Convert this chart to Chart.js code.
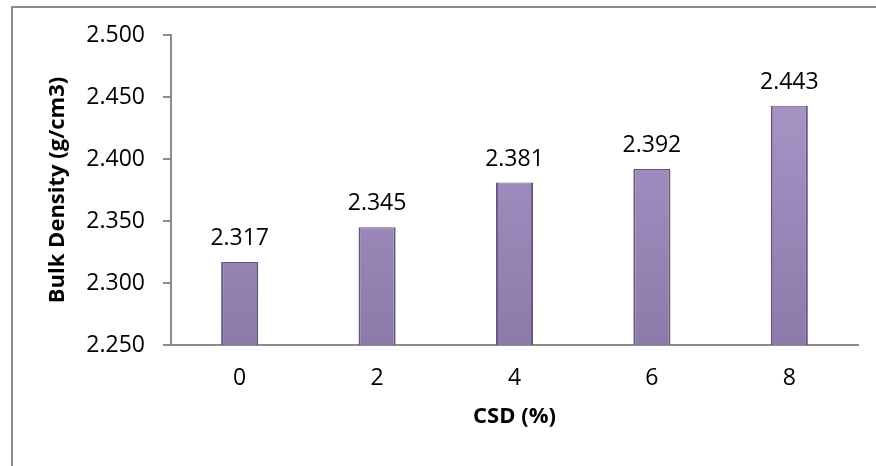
<!DOCTYPE html>
<html>
<head>
<meta charset="utf-8">
<script src="https://cdn.jsdelivr.net/npm/chart.js@4"></script>
<style>
  html, body { margin: 0; padding: 0; background: #fff; overflow: hidden; }
  #wrap { position: relative; width: 876px; height: 466px; }
  #frame { position: absolute; left: 11px; top: 6px; width: 900px; height: 500px; border: 2px solid #8c8c8c; box-sizing: border-box; }
  canvas { position: absolute; left: 0; top: 0; }
</style>
</head>
<body>
<div id="wrap">
  <div id="frame"></div>
  <canvas id="densityChart" width="876" height="466"></canvas>
</div>
<script>
const categories = ["0", "2", "4", "6", "8"];
const bulkDensity = [2.317, 2.345, 2.381, 2.392, 2.443];
const yTicks = [2.25, 2.30, 2.35, 2.40, 2.45, 2.50];

const labelFont = { family: "'Open Sans', sans-serif", size: 23 };
const titleFont = { family: "'Open Sans', sans-serif", size: 22, weight: "bold" };

// values over the bars
const valueLabels = {
  id: "valueLabels",
  afterDatasetsDraw(chart) {
    const ctx = chart.ctx;
    const meta = chart.getDatasetMeta(0);
    ctx.save();
    ctx.font = `${labelFont.size}px ${labelFont.family}`;
    ctx.fillStyle = "#000";
    ctx.textAlign = "center";
    ctx.textBaseline = "alphabetic";
    meta.data.forEach((bar, i) => {
      ctx.fillText(bulkDensity[i].toFixed(3), bar.x, bar.y - 17);
    });
    ctx.restore();
  }
};

function barFill(context) {
  const area = context.chart.chartArea;
  if (!area) return "#9c8abd";
  const g = context.chart.ctx.createLinearGradient(0, area.top, 0, area.bottom);
  g.addColorStop(0, "#ab9bcb");
  g.addColorStop(1, "#8c7aab");
  return g;
}

new Chart(document.getElementById("densityChart"), {
  type: "bar",
  data: {
    labels: categories,
    datasets: [{
      label: "Bulk Density",
      data: bulkDensity,
      backgroundColor: barFill,
      borderColor: "#65557f",
      borderWidth: { left: 2, right: 2, top: 1, bottom: 0 },
      barPercentage: 0.27,
      categoryPercentage: 1
    }]
  },
  options: {
    responsive: false,
    animation: false,
    layout: { padding: { left: 0, right: 18, top: 35, bottom: 0 } },
    plugins: {
      legend: { display: false },
      tooltip: { enabled: false }
    },
    scales: {
      x: {
        grid: { display: true, drawOnChartArea: false, drawTicks: false, color: "#8c8c8c" },
        border: { display: true, color: "#8c8c8c", width: 2 },
        ticks: { color: "#000", font: labelFont, padding: 20 },
        title: { display: true, text: "CSD (%)", color: "#000", font: titleFont, padding: { top: 0, bottom: 36 } },
        afterFit(scale) { scale.height = 121; }
      },
      y: {
        min: 2.25,
        max: 2.5,
        afterBuildTicks(scale) { scale.ticks = yTicks.map(v => ({ value: v })); },
        grid: { display: true, drawOnChartArea: false, drawTicks: true, tickLength: 8, color: "#8c8c8c", lineWidth: 2 },
        border: { display: true, color: "#8c8c8c", width: 2 },
        ticks: { color: "#000", font: labelFont, padding: 18, callback: v => Number(v).toFixed(3) },
        title: { display: true, text: "Bulk Density (g/cm3)", color: "#000", font: titleFont, padding: { top: 45, bottom: 0 } },
        afterFit(scale) { scale.width = 171; }
      }
    }
  },
  plugins: [valueLabels]
});
</script>
</body>
</html>
